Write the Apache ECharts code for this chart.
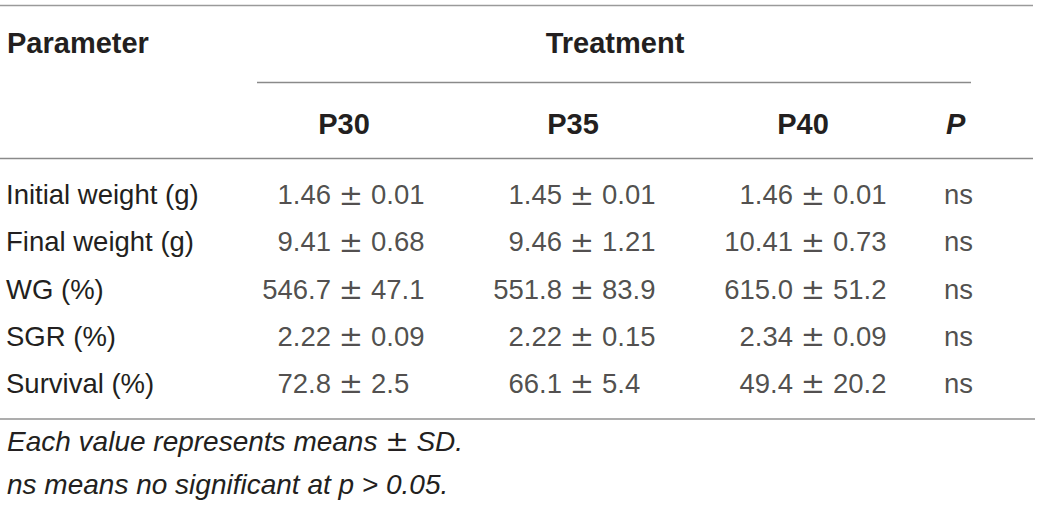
<!DOCTYPE html>
<html>
<head>
<meta charset="utf-8">
<script src="https://cdn.jsdelivr.net/npm/echarts@6/dist/echarts.min.js"></script>
<style>
  html, body { margin: 0; padding: 0; background: #fff; }
  #table-chart { width: 1040px; height: 505px; }
</style>
</head>
<body>
<div id="table-chart"></div>
<script>
// table content
const parameters = ["Initial weight (g)", "Final weight (g)", "WG (%)", "SGR (%)", "Survival (%)"];
const treatments = ["P30", "P35", "P40"];
const rowDecimals = [2, 2, 1, 2, 1];
const p30Mean = [1.46, 9.41, 546.7, 2.22, 72.8];
const p30Sd = [0.01, 0.68, 47.1, 0.09, 2.5];
const p35Mean = [1.45, 9.46, 551.8, 2.22, 66.1];
const p35Sd = [0.01, 1.21, 83.9, 0.15, 5.4];
const p40Mean = [1.46, 10.41, 615.0, 2.34, 49.4];
const p40Sd = [0.01, 0.73, 51.2, 0.09, 20.2];
const pValues = ["ns", "ns", "ns", "ns", "ns"];
const notes = ["Each value represents means \u00b1 SD.", "ns means no significant at p > 0.05."];

const FONT = "'Liberation Sans', Arial, Helvetica, sans-serif";
const PM_FONT = "'DejaVu Sans', sans-serif";
const TEXT = "#231f20";
const SIZE = 27.5;

// centre of the "±" sign in each treatment column, and header centres
const pmX = [351, 582, 813];
const headX = [344, 573, 803];
const pColX = 944;

const chart = echarts.init(document.getElementById("table-chart"), null, { renderer: "svg" });

const fmt = (v, i) => v.toFixed(rowDecimals[i]);
const cellStyle = { fontFamily: FONT, fontSize: SIZE, color: TEXT };
const cellSeries = (points, label) => ({
  type: "scatter",
  symbolSize: 0,
  silent: true,
  data: points,
  label: Object.assign({ show: true, formatter: (p) => p.value[2] }, cellStyle, label),
});

const series = [];
[[p30Mean, p30Sd], [p35Mean, p35Sd], [p40Mean, p40Sd]].forEach(([means, sds], c) => {
  series.push(cellSeries(means.map((m, i) => [pmX[c], i, fmt(m, i)]), { position: "left", distance: 20 }));
  series.push(cellSeries(means.map((m, i) => [pmX[c], i, "\u00b1"]), {
    position: "inside", fontFamily: PM_FONT, fontSize: 29,
  }));
  series.push(cellSeries(sds.map((s, i) => [pmX[c], i, fmt(s, i)]), { position: "right", distance: 20 }));
});
series.push(cellSeries(pValues.map((v, i) => [pColX, i, v]), { position: "right", distance: 0 }));

const rule = (x1, y, x2, color, w) => ({
  type: "line",
  silent: true,
  shape: { x1: x1, y1: y, x2: x2, y2: y },
  style: { stroke: color, lineWidth: w },
});
const text = (str, x, y, opts) => ({
  type: "text",
  silent: true,
  style: Object.assign({
    text: str, x: x, y: y,
    fontFamily: FONT, fontSize: SIZE, fill: TEXT,
    textAlign: "left", textVerticalAlign: "middle",
  }, opts || {}),
});

const graphics = [
  rule(0, 5.5, 1033, "#9a9a9a", 1.5),
  rule(257, 82.5, 971, "#8a8a8a", 1.5),
  rule(0, 158.5, 1033, "#8a8a8a", 1.5),
  rule(0, 419, 1035, "#adadad", 2.2),
  text("Parameter", 7, 42.5, { fontWeight: "bold", fontSize: 29 }),
  text("Treatment", 615, 42.5, { fontWeight: "bold", fontSize: 29, textAlign: "center" }),
  text("P", 946, 124, { fontWeight: "bold", fontStyle: "italic", fontSize: 29 }),
];
treatments.forEach((t, c) => {
  graphics.push(text(t, headX[c], 124, { fontWeight: "bold", fontSize: 29, textAlign: "center" }));
});
notes.forEach((n, i) => {
  graphics.push(text(n.replace("\u00b1", "{pm|\u00b1}"), 7, 441 + i * 43, {
    fontStyle: "italic", fontSize: 28,
    rich: { pm: { fontFamily: PM_FONT, fontSize: 28, fill: TEXT } },
  }));
});

const option = {
  animation: false,
  backgroundColor: "#fff",
  grid: { left: 0, right: 0, top: 171, height: 236 },
  xAxis: {
    type: "value",
    min: 0,
    max: 1040,
    show: false,
  },
  yAxis: {
    type: "category",
    inverse: true,
    data: parameters,
    axisLine: { show: false },
    axisTick: { show: false },
    splitLine: { show: false },
    axisLabel: {
      inside: true,
      margin: 6,
      fontFamily: FONT,
      fontSize: SIZE,
      color: TEXT,
    },
  },
  graphic: graphics,
  series: series,
};

chart.setOption(option);
</script>
</body>
</html>
